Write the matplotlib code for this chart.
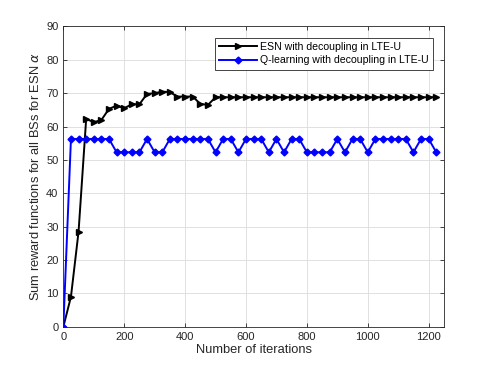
import numpy as np
import matplotlib
matplotlib.use('Agg')
import matplotlib.pyplot as plt

# Data ---------------------------------------------------------------------
iters = np.arange(0, 1250, 25)

esn = [0, 9, 28.5, 62.3, 61.3, 62, 65.3, 66.3, 65.5, 66.7,
       66.7, 69.8, 70, 70.5, 70.3, 69, 69, 69, 66.8, 66.5,
       68.8] + [68.8] * 29

H, L = 56.3, 52.3
qlearn = [0, H, H, H, H, H, H, L, L, L,
          L, H, L, L, H, H, H, H, H, H,
          L, H, H, L, H, H, H, L, H, L,
          H, H, L, L, L, L, H, L, H, H,
          L, H, H, H, H, H, L, H, H, L]

labels = ['ESN with decoupling in LTE-U', 'Q-learning with decoupling in LTE-U']

plt.rcParams['font.family'] = ['Liberation Sans', 'DejaVu Sans']

fig = plt.figure(figsize=(4.91, 3.68), dpi=100)
ax = fig.add_axes([0.129, 0.112, 0.775, 0.816])

ax.plot(iters, esn, color='k', marker='>', markersize=5, linewidth=1.4,
        label=labels[0])
ax.plot(iters, qlearn, color='b', marker='D', markersize=3.5, linewidth=1.4,
        label=labels[1])

ax.set_xlim(0, 1250)
ax.set_ylim(0, 90)
ax.set_xticks(np.arange(0, 1201, 200))
ax.set_yticks(np.arange(0, 91, 10))
ax.grid(True, color='#dcdcdc', linewidth=0.6)
ax.set_axisbelow(True)
ax.tick_params(direction='in', top=True, right=True, labelsize=8,
               length=3, width=0.6, colors='#262626')
for s in ax.spines.values():
    s.set_linewidth(0.6)
    s.set_color('#262626')

ax.set_xlabel('Number of iterations', fontsize=9.3, color='#262626', labelpad=2)
ax.set_ylabel(r'Sum reward functions for all BSs for ESN $\alpha$', fontsize=9.3,
              color='#262626', labelpad=3)

leg = ax.legend(loc='upper right', fontsize=7.6, fancybox=False, framealpha=1,
                edgecolor='#262626', handlelength=3.6, borderpad=0.4,
                labelspacing=0.35, handletextpad=0.25, borderaxespad=1.05)
leg.get_frame().set_linewidth(0.6)

fig.savefig('out.png', dpi=100, facecolor='w')
